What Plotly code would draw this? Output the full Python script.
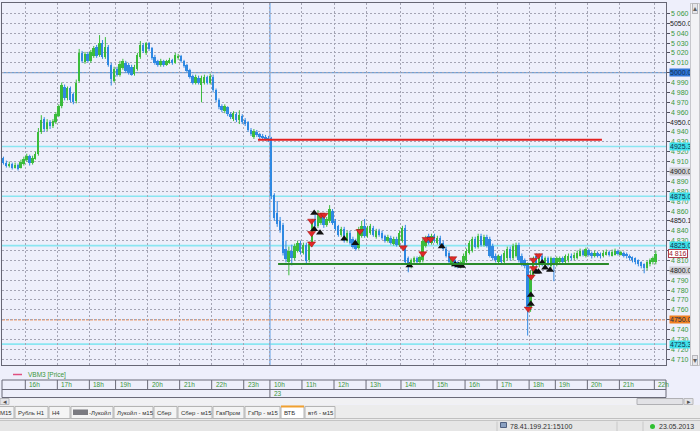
import plotly.graph_objects as go

# ---------------- data (5-minute candles, VBM3) ----------------
opens = [
    4914, 4909, 4906, 4908, 4904, 4907, 4904, 4908, 4912, 4916,
    4909, 4913, 4918, 4940, 4953, 4943, 4950, 4946, 4950, 4956,
    4966, 4986, 4974, 4984, 4978, 4971, 4992, 5020, 5011, 5019,
    5012, 5017, 5026, 5018, 5030, 5016, 5026, 5008, 4992, 5004,
    4998, 5005, 5010, 5008, 5006, 4999, 5004, 5016, 5028, 5020,
    5030, 5025, 5016, 5012, 5008, 5012, 5008, 5010, 5013, 5010,
    5015, 5017, 5012, 5008, 5003, 4997, 4990, 4995, 4988, 4990,
    4996, 4990, 4996, 4982, 4972, 4966, 4961, 4965, 4958, 4953,
    4958, 4952, 4956, 4952, 4950, 4942, 4935, 4940, 4938, 4936,
    4935, 4934,
    4934, 4876, 4858, 4850, 4846, 4822, 4808, 4820, 4812, 4820,
    4828, 4818, 4826, 4810, 4826, 4852, 4845, 4848, 4855, 4846,
    4850, 4860, 4850, 4845, 4836, 4842, 4830, 4838, 4832, 4830,
    4823, 4835, 4845, 4835, 4838, 4843, 4834, 4840, 4838, 4835,
    4830, 4833, 4827, 4832, 4826, 4830, 4843, 4812, 4804, 4808,
    4812, 4808, 4810, 4825, 4835, 4828, 4835, 4828, 4833, 4828,
    4822, 4818, 4806, 4810, 4808, 4804, 4805, 4810, 4818, 4820,
    4832, 4824, 4835, 4826, 4834, 4832, 4825, 4815, 4808, 4814,
    4808, 4812, 4822, 4812, 4815, 4826, 4815, 4810, 4806, 4762,
    4795, 4815, 4805, 4815, 4806, 4812, 4804, 4812, 4806, 4808,
    4812, 4808, 4810, 4815, 4812, 4812, 4815, 4820, 4814, 4821,
    4818, 4814, 4818, 4817, 4814, 4816, 4819, 4815, 4816, 4820,
    4816, 4818, 4817, 4815, 4813, 4812, 4810, 4808, 4806, 4802,
    4806, 4808, 4808,
]
highs = [
    4915, 4911, 4910, 4909, 4909, 4908, 4912, 4915, 4918, 4917,
    4916, 4920, 4944, 4957, 4955, 4953, 4952, 4953, 4960, 4968,
    4990, 4988, 4986, 4986, 4980, 4993, 5024, 5022, 5021, 5021,
    5023, 5027, 5028, 5038, 5033, 5036, 5028, 5010, 5006, 5006,
    5012, 5014, 5012, 5010, 5008, 5008, 5020, 5032, 5030, 5031,
    5031, 5026, 5018, 5013, 5014, 5013, 5013, 5015, 5014, 5020,
    5019, 5018, 5013, 5009, 5004, 4998, 4998, 4997, 4997, 4998,
    4997, 4999, 4998, 4984, 4974, 4968, 4968, 4966, 4960, 4961,
    4960, 4962, 4958, 4954, 4951, 4944, 4943, 4942, 4939, 4938,
    4937, 4936,
    4935, 4878, 4870, 4854, 4848, 4830, 4824, 4826, 4827, 4830,
    4830, 4828, 4828, 4829, 4852, 4856, 4861, 4858, 4857, 4854,
    4866, 4862, 4852, 4846, 4844, 4844, 4840, 4840, 4834, 4832,
    4844, 4850, 4852, 4845, 4847, 4845, 4842, 4842, 4840, 4836,
    4836, 4835, 4834, 4834, 4840, 4845, 4846, 4814, 4812, 4814,
    4814, 4815, 4832, 4835, 4837, 4837, 4837, 4835, 4835, 4830,
    4824, 4820, 4814, 4812, 4809, 4810, 4817, 4822, 4830, 4834,
    4834, 4837, 4837, 4836, 4836, 4834, 4827, 4817, 4816, 4816,
    4820, 4824, 4824, 4827, 4828, 4828, 4817, 4812, 4808, 4800,
    4814, 4817, 4817, 4817, 4814, 4814, 4814, 4813, 4814, 4814,
    4814, 4816, 4817, 4817, 4818, 4820, 4822, 4821, 4823, 4822,
    4819, 4820, 4819, 4818, 4820, 4821, 4820, 4821, 4822, 4821,
    4820, 4819, 4818, 4816, 4814, 4813, 4811, 4809, 4807, 4810,
    4812, 4814, 4820,
]
lows = [
    4907, 4904, 4904, 4902, 4903, 4901, 4903, 4906, 4910, 4906,
    4907, 4912, 4916, 4938, 4940, 4941, 4943, 4944, 4948, 4955,
    4964, 4972, 4972, 4970, 4968, 4969, 4990, 5010, 5009, 5010,
    5010, 5015, 5015, 5016, 5014, 5014, 5006, 4987, 4990, 4996,
    4996, 5003, 5000, 4998, 4997, 4997, 5002, 5014, 5020, 5018,
    5022, 5013, 5008, 5006, 5006, 5006, 5007, 5009, 5008, 5009,
    5013, 5010, 5005, 5000, 4994, 4988, 4988, 4988, 4970, 4988,
    4988, 4988, 4980, 4970, 4963, 4960, 4959, 4956, 4953, 4951,
    4950, 4948, 4948, 4946, 4940, 4936, 4933, 4935, 4933, 4932,
    4931, 4930,
    4872, 4850, 4844, 4838, 4815, 4808, 4795, 4805, 4810, 4818,
    4816, 4816, 4806, 4808, 4824, 4842, 4843, 4846, 4843, 4844,
    4848, 4846, 4840, 4834, 4834, 4828, 4828, 4826, 4822, 4820,
    4821, 4833, 4833, 4833, 4836, 4834, 4832, 4834, 4831, 4828,
    4828, 4826, 4825, 4824, 4824, 4828, 4806, 4798, 4802, 4806,
    4806, 4806, 4808, 4823, 4826, 4826, 4828, 4826, 4824, 4820,
    4813, 4806, 4804, 4803, 4802, 4802, 4803, 4808, 4816, 4818,
    4822, 4822, 4824, 4824, 4823, 4813, 4810, 4808, 4806, 4806,
    4806, 4810, 4810, 4810, 4813, 4808, 4804, 4802, 4734, 4758,
    4793, 4803, 4803, 4804, 4804, 4804, 4802, 4789, 4804, 4806,
    4806, 4806, 4808, 4810, 4810, 4811, 4814, 4814, 4813, 4814,
    4812, 4813, 4813, 4812, 4813, 4815, 4814, 4814, 4815, 4815,
    4815, 4813, 4812, 4810, 4808, 4806, 4804, 4802, 4797, 4800,
    4804, 4806, 4806,
]
closes = [
    4909, 4906, 4908, 4904, 4907, 4903, 4910, 4913, 4916, 4909,
    4914, 4918, 4940, 4952, 4943, 4950, 4946, 4951, 4958, 4966,
    4988, 4974, 4984, 4972, 4970, 4990, 5020, 5012, 5019, 5012,
    5021, 5025, 5017, 5030, 5016, 5026, 5008, 4994, 5004, 4998,
    5009, 5012, 5002, 5000, 4998, 5006, 5018, 5028, 5022, 5030,
    5024, 5015, 5010, 5008, 5012, 5008, 5012, 5013, 5010, 5018,
    5017, 5012, 5007, 5002, 4996, 4990, 4996, 4990, 4995, 4996,
    4990, 4997, 4982, 4972, 4965, 4962, 4966, 4958, 4955, 4959,
    4952, 4957, 4950, 4948, 4942, 4938, 4941, 4937, 4935, 4934,
    4933, 4932,
    4875, 4853, 4847, 4841, 4818, 4811, 4820, 4812, 4825, 4828,
    4819, 4826, 4809, 4827, 4850, 4845, 4857, 4855, 4846, 4852,
    4862, 4848, 4842, 4836, 4842, 4830, 4838, 4828, 4824, 4822,
    4842, 4845, 4835, 4843, 4845, 4836, 4840, 4836, 4833, 4830,
    4834, 4828, 4832, 4826, 4838, 4843, 4808, 4804, 4810, 4812,
    4808, 4813, 4830, 4833, 4828, 4835, 4830, 4833, 4826, 4822,
    4815, 4808, 4812, 4805, 4804, 4808, 4815, 4820, 4828, 4832,
    4824, 4835, 4826, 4834, 4825, 4815, 4812, 4810, 4814, 4808,
    4818, 4822, 4812, 4825, 4826, 4810, 4806, 4804, 4762, 4795,
    4812, 4805, 4815, 4806, 4812, 4806, 4812, 4806, 4812, 4812,
    4808, 4814, 4815, 4812, 4816, 4818, 4820, 4816, 4822, 4816,
    4814, 4818, 4815, 4814, 4818, 4819, 4816, 4819, 4820, 4817,
    4819, 4815, 4814, 4812, 4810, 4808, 4806, 4804, 4802, 4808,
    4810, 4812, 4817,
]
bar_index = list(range(len(closes)))

# trade signals (bar position, price)
sell_x = [105.8, 105.8, 105.8, 109.0, 110.1, 122.4, 137.3, 144.0, 145.1, 146.7, 154.3, 180.2, 181.2, 182.0, 182.0, 183.7]
sell_y = [4850, 4837.5, 4827, 4856, 4856, 4839.5, 4823, 4817, 4831.5, 4831.5, 4812, 4761, 4793.5, 4802, 4810.5, 4815]
buy_x = [106.7, 106.7, 108.7, 117.0, 120.8, 139.4, 150.5, 155.1, 156.2, 157.4, 181.1, 181.1, 182.9, 183.7, 185.0, 186.0, 187.7]
buy_y = [4858, 4841.5, 4838, 4832, 4827.5, 4805, 4824, 4806, 4805, 4804.5, 4766, 4775, 4798.5, 4798.5, 4808, 4802.5, 4800.3]

# time axis
hour_labels = ["16h", "17h", "18h", "19h", "20h", "21h", "22h", "23h", "10h", "11h", "12h",
               "13h", "14h", "15h", "16h", "17h", "18h", "19h", "20h", "21h", "22h"]
hour_bounds = [8, 19, 30, 39, 50, 61, 72, 83, 92, 103, 114, 125, 137, 148, 159, 170, 181, 190, 201, 212, 224]
day_label = "23"
day_bound = 92

# price axis (4 820 sits fully behind the last-price box, so it is not drawn)
tick_values = [5060, 5040, 5030, 5020, 5010, 4990, 4980, 4970, 4960, 4940, 4930, 4920, 4910,
               4890, 4880, 4870, 4860, 4840, 4830, 4810, 4790, 4780, 4770, 4760, 4740,
               4730, 4720, 4710]
tick_texts = ["5 060", "5 040", "5 030", "5 020", "5 010", "4 990", "4 980", "4 970", "4 960",
              "4 940", "4 930", "4 920", "4 910", "4 890", "4 880", "4 870", "4 860", "4 840",
              "4 830", "4 810", "4 790", "4 780", "4 770", "4 760", "4 740", "4 730",
              "4 720", "4 710"]
round_values = [5050, 4950, 4900, 4850, 4800]
round_texts = ["5050.05", "4950.03", "4900.05", "4850.10", "4800.00"]
round_boxed = [False, False, True, False, True]

level_prices = [5000.00, 4925.33, 4875.01, 4825.00, 4750.00, 4725.33]
level_texts = ["5000.00", "4925.33", "4875.01", "4825.00", "4750.00", "4725.33"]
level_kinds = ["blue", "cyan", "cyan", "cyan", "orange", "cyan"]

last_price = 4817
last_text = "4 816"

resist_price, resist_start, resist_end = 4932, 87.4, 205.5
support_price, support_start, support_end = 4806.5, 94.3, 207.9

tab_names = ["M15", "Рубль H1", "H4", "-Лукойл", "Лукойл - м15", "Сбер", "Сбер - м15",
             "ГазПром", "ГзПр - м15", "ВТБ", "втб - м15"]
selected_tab = "ВТБ"

# ---------------- styling / layout helpers ----------------
GREEN = "#3cbc3c"
BLUE = "#3089e2"
FONT = "Liberation Sans"
AX_GREEN = "#3a963a"
BG = "#eeeffb"

W, H = 700, 431
ML, MR, MT, MB = 2, 34, 3, 66
PW = W - ML - MR
PH = H - MT - MB
X_RANGE = [-0.5, 227.5]
Y_RANGE = [4704.2, 5070.5]


def xp(px):
    return (px - ML) / PW


def yp(py):
    return (H - MB - py) / PH


def bx(b):
    return (b - 0.5 - X_RANGE[0]) / (X_RANGE[1] - X_RANGE[0])


shapes = []
annotations = []


def rect(x0, y0, x1, y1, fill, line=None, lw=1):
    shapes.append(dict(type="rect", xref="paper", yref="paper",
                       x0=xp(x0), x1=xp(x1), y0=yp(y1), y1=yp(y0),
                       fillcolor=fill, line=dict(color=line if line else fill, width=lw if line else 0),
                       layer="above"))


def hline(x0, x1, y, color, w=1):
    shapes.append(dict(type="line", xref="paper", yref="paper", x0=xp(x0), x1=xp(x1),
                       y0=yp(y), y1=yp(y), line=dict(color=color, width=w), layer="above"))


def vline_paper(x, y0, y1, color, w=1):
    shapes.append(dict(type="line", xref="paper", yref="paper", x0=x, x1=x,
                       y0=yp(y0), y1=yp(y1), line=dict(color=color, width=w), layer="above"))


def label(px, py, s, size=7, color="#303030", anchor="left", bg="rgba(0,0,0,0)", border="rgba(0,0,0,0)"):
    annotations.append(dict(xref="paper", yref="paper", x=xp(px), y=yp(py), text=s, showarrow=False,
                            xanchor=anchor, yanchor="middle", font=dict(size=size, color=color, family=FONT),
                            bgcolor=bg, bordercolor=border, borderwidth=1, borderpad=0))


fig = go.Figure()

# candles: wicks as line segments, bodies as floating bars
for up, color in ((True, GREEN), (False, BLUE)):
    idx = [i for i in bar_index if (closes[i] >= opens[i]) == up]
    wx, wy = [], []
    for i in idx:
        wx += [i, i, None]
        wy += [lows[i], highs[i], None]
    fig.add_trace(go.Scatter(x=wx, y=wy, mode="lines", line=dict(color=color, width=1),
                             showlegend=False, hoverinfo="skip"))
    fig.add_trace(go.Bar(x=idx, y=[abs(closes[i] - opens[i]) for i in idx],
                         base=[min(opens[i], closes[i]) for i in idx], width=0.66,
                         marker=dict(color=color, line=dict(width=0)), showlegend=False, hoverinfo="skip"))

fig.add_trace(go.Scatter(x=sell_x, y=sell_y, mode="markers", showlegend=False, hoverinfo="skip",
                         marker=dict(symbol="triangle-down", size=7, color="#e02828",
                                     line=dict(color="#a01010", width=0.5))))
fig.add_trace(go.Scatter(x=buy_x, y=buy_y, mode="markers", showlegend=False, hoverinfo="skip",
                         marker=dict(symbol="triangle-up", size=7, color="#101010")))

# level lines
level_style = {
    "blue": dict(color="#6f9fd4", width=1.2),
    "cyan": dict(color="#8ae6f2", width=1.6),
    "orange": dict(color="#f0a070", width=1.6, dash="3px,1px"),
}
level_box = {"blue": "#2f74d6", "cyan": "#3fe2ea", "orange": "#f07f20"}
for p, k in zip(level_prices, level_kinds):
    shapes.append(dict(type="line", xref="paper", x0=0, x1=1, yref="y", y0=p, y1=p,
                       line=level_style[k], layer="between"))

# day separator
shapes.append(dict(type="line", xref="x", x0=day_bound - 0.5, x1=day_bound - 0.5, yref="paper", y0=0, y1=1,
                   line=dict(color="#84b4ea", width=1.5), layer="between"))

# resistance / support segments
shapes.append(dict(type="line", xref="x", x0=resist_start, x1=resist_end, yref="y",
                   y0=resist_price, y1=resist_price, line=dict(color="#e42020", width=2), layer="above"))
shapes.append(dict(type="line", xref="x", x0=support_start, x1=support_end, yref="y",
                   y0=support_price, y1=support_price, line=dict(color="#2a8a2a", width=2), layer="above"))

# right axis labels
AXF = 7
for v, t in zip(tick_values, tick_texts):
    annotations.append(dict(xref="paper", x=1, xshift=3, xanchor="left", yref="y", y=v, yanchor="middle",
                            text=t, showarrow=False, font=dict(size=AXF, color=AX_GREEN, family=FONT)))
for v, t, bxd in zip(round_values, round_texts, round_boxed):
    annotations.append(dict(xref="paper", x=1, xshift=3, xanchor="left", yref="y", y=v, yanchor="middle",
                            text=t, showarrow=False, font=dict(size=AXF, color="#202020", family=FONT),
                            bgcolor="#cfcfd4" if bxd else "rgba(0,0,0,0)", borderpad=0))
for p, t, k in zip(level_prices, level_texts, level_kinds):
    annotations.append(dict(xref="paper", x=1, xshift=3, xanchor="left", yref="y", y=p, yanchor="middle",
                            text=t, showarrow=False, font=dict(size=AXF, color="#103050", family=FONT),
                            bgcolor=level_box[k], borderpad=0))
annotations.append(dict(xref="paper", x=1, xshift=2, xanchor="left", yref="y", y=last_price, yanchor="middle",
                        text=last_text, showarrow=False, font=dict(size=AXF, color="#a02030", family=FONT),
                        bgcolor="#ffffff", bordercolor="#b04050", borderwidth=1, borderpad=0))

# vertical scrollbar (overlay annotation so it hides clipped labels)
annotations.append(dict(xref="paper", yref="paper", x=xp(690), y=yp(3), xanchor="left", yanchor="top",
                        text=" ", showarrow=False, width=8, height=361, bgcolor="#f3f3f5",
                        bordercolor="#c8c8cc", borderwidth=1, borderpad=0))
label(694.5, 8, "▴", size=8, color="#606060", anchor="center", bg="#e6e6ea", border="#b8b8bc")
label(694.5, 360, "▾", size=8, color="#606060", anchor="center", bg="#e6e6ea", border="#b8b8bc")

# legend row
hline(13, 22, 374.5, "#e05080", 1.5)
label(27, 374.5, "VBM3 [Price]", size=6.5, color=AX_GREEN)

# time axis rows
ROW_T, ROW_M, ROW_B = 380, 389.5, 397.5
hline(2, 666, ROW_T, "#6a6a78")
hline(2, 666, ROW_M, "#6a6a78")
hline(2, 666, ROW_B, "#6a6a78")
vline_paper(xp(2), ROW_T, ROW_B, "#6a6a78")
vline_paper(xp(666), ROW_T, ROW_B, "#6a6a78")
for b, t in zip(hour_bounds, hour_labels):
    vline_paper(bx(b), ROW_T, ROW_M, "#6a6a78")
    annotations.append(dict(xref="paper", yref="paper", x=bx(b), xshift=2, y=yp((ROW_T + ROW_M) / 2),
                            xanchor="left", yanchor="middle", text=t, showarrow=False,
                            font=dict(size=6.5, color=AX_GREEN, family=FONT)))
vline_paper(bx(day_bound), ROW_M, ROW_B, "#6a6a78")
annotations.append(dict(xref="paper", yref="paper", x=bx(day_bound), xshift=2, y=yp((ROW_M + ROW_B) / 2),
                        xanchor="left", yanchor="middle", text=day_label, showarrow=False,
                        font=dict(size=6.5, color=AX_GREEN, family=FONT)))

# horizontal scrollbar
rect(0, 398.5, 694, 404.5, "#f1f1f3")
rect(0, 398.5, 9, 404.5, "#e4e4e8", "#b8b8bc")
label(4.5, 401.5, "◂", size=7, color="#505050", anchor="center")
rect(637, 398.5, 683, 404.5, "#e2e2e6", "#b0b0b4")
rect(684, 398.5, 693, 404.5, "#e4e4e8", "#b8b8bc")
label(688.5, 401.5, "▸", size=7, color="#505050", anchor="center")

# tab strip
rect(-2, 405, 702, 420, "#ececec")
hline(-2, 702, 418.5, "#c0c0c0")
tab_edges = [(-3, 14), (15, 48), (49, 70), (71, 113), (114, 153), (154, 177), (178, 212),
             (213, 244), (245, 280), (281, 304), (305, 335)]
for name, (a, b) in zip(tab_names, tab_edges):
    sel = name == selected_tab
    rect(a, 406.5, b, 418.5, "#ffffff" if sel else "#f4f4f4", "#b4b4b4")
    if sel:
        hline(a, b, 406.5, "#f0a030", 2)
    tx = a + 2
    if name == "-Лукойл":
        rect(73, 409.5, 88, 415, "#7a7a80")
        tx = 88
    label(tx, 412.5, name, size=6, color="#303030")

# status bar
rect(-2, 420, 702, 432, "#e6e6e6")
hline(-2, 702, 420.5, "#c4c4c4")
for sx in (497, 617, 643):
    vline_paper(xp(sx), 421.5, 431, "#c8c8c8")
rect(500.5, 422.5, 506.5, 427.5, "#8aa0c0", "#506080")
label(509, 426.5, "78.41.199.21:15100", size=7, color="#303030")
shapes.append(dict(type="circle", xref="paper", yref="paper", x0=xp(650), x1=xp(655),
                   y0=yp(429), y1=yp(424), fillcolor="#30c030", line=dict(width=0), layer="above"))
label(658, 426.5, "23.05.2013", size=7, color="#303030")

fig.update_layout(
    width=W, height=H, autosize=False,
    margin=dict(l=ML, r=MR, t=MT, b=MB, pad=0),
    paper_bgcolor=BG, plot_bgcolor=BG,
    showlegend=False, barmode="overlay", bargap=0,
    shapes=shapes, annotations=annotations,
    xaxis=dict(range=X_RANGE, showticklabels=False,
               tickvals=[b - 0.5 for b in hour_bounds], ticks="",
               showgrid=True, gridcolor="#a4a4b4", gridwidth=1, griddash="2px,2px",
               zeroline=False, showline=True, mirror=True, linecolor="#666674", linewidth=1),
    yaxis=dict(range=Y_RANGE, side="right", showticklabels=False,
               tickvals=list(range(4710, 5061, 10)), ticks="outside", ticklen=3, tickcolor="#505060",
               showgrid=True, gridcolor="#a4a4b4", gridwidth=1, griddash="2px,2px",
               zeroline=False, showline=True, mirror=True, linecolor="#666674", linewidth=1),
)

fig.write_html("out.html", config={"displayModeBar": False},
               post_script="document.body.style.margin='0';document.body.style.overflow='hidden';")
